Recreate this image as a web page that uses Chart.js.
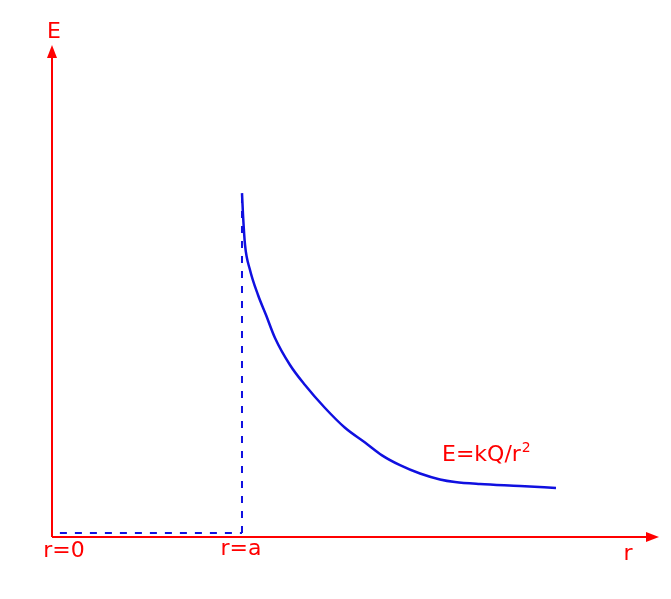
<!DOCTYPE html>
<html>
<head>
<meta charset="utf-8">
<script src="https://cdn.jsdelivr.net/npm/chart.js@4.4.1/dist/chart.umd.min.js"></script>
<style>
  html, body { margin: 0; padding: 0; background: #fff; }
  #wrap { width: 671px; height: 599px; }
</style>
</head>
<body>
<div id="wrap"><canvas id="field-chart"></canvas></div>
<script>
// curve E = kQ/r^2 for r >= a (arbitrary units, axes 0..10)
const curveR = [3.13, 3.147, 3.18, 3.262, 3.394, 3.526, 3.674, 3.921, 4.168, 4.498, 4.827, 5.157, 5.437, 5.733, 6.063, 6.392, 6.639, 7.051, 7.71, 8.303];
const curveE = [6.99, 6.545, 5.935, 5.427, 4.919, 4.512, 4.045, 3.496, 3.089, 2.622, 2.22, 1.92, 1.66, 1.46, 1.29, 1.17, 1.118, 1.077, 1.037, 0.996];

// r = a marker and the E = 0 line inside the sphere
const rA = 3.13;
const insideR = [0.13, 3.13];
const insideE = [0.08, 0.08];
const markerE = [0.08, 6.9];

const axisLabels = { x: 'r', y: 'E', origin: 'r=0', a: 'r=a', formula: 'E=kQ/r' };

const red = '#ff0000';
const blue = '#1010e0';
const font = '"DejaVu Sans", Verdana, sans-serif';

// draw axes, arrows and the texts
const axesPlugin = {
    id: 'axes',
    afterDatasetsDraw(chart) {
        const ctx = chart.ctx;
        const xs = chart.scales.x;
        const ys = chart.scales.y;
        const x0 = xs.getPixelForValue(0);
        const y0 = ys.getPixelForValue(0);
        const xEnd = xs.getPixelForValue(10);
        const yEnd = ys.getPixelForValue(10);

        ctx.save();
        ctx.strokeStyle = red;
        ctx.fillStyle = red;
        ctx.lineWidth = 2;
        ctx.beginPath();
        ctx.moveTo(x0, y0);
        ctx.lineTo(xEnd - 8, y0);
        ctx.moveTo(x0, y0);
        ctx.lineTo(x0, yEnd + 8);
        ctx.stroke();

        // arrow heads
        ctx.beginPath();
        ctx.moveTo(xEnd, y0);
        ctx.lineTo(xEnd - 13, y0 - 5);
        ctx.lineTo(xEnd - 13, y0 + 5);
        ctx.closePath();
        ctx.fill();
        ctx.beginPath();
        ctx.moveTo(x0, yEnd);
        ctx.lineTo(x0 - 5, yEnd + 13);
        ctx.lineTo(x0 + 5, yEnd + 13);
        ctx.closePath();
        ctx.fill();

        ctx.font = '22px ' + font;
        ctx.textAlign = 'center';
        ctx.textBaseline = 'middle';
        ctx.fillText(axisLabels.y, x0 + 2, yEnd - 13);
        ctx.fillText(axisLabels.x, xEnd - 31, y0 + 17);
        ctx.fillText(axisLabels.origin, x0 + 12, y0 + 14);
        ctx.fillText(axisLabels.a, xs.getPixelForValue(rA) - 1, y0 + 12);

        ctx.textAlign = 'left';
        const fx = 442, fy = 455;
        ctx.fillText(axisLabels.formula, fx, fy);
        const w = ctx.measureText(axisLabels.formula).width;
        ctx.font = '14px ' + font;
        ctx.fillText('2', fx + w + 1, fy - 7);
        ctx.restore();
    }
};

const toPoints = (xsArr, ysArr) => xsArr.map((v, i) => ({ x: v, y: ysArr[i] }));

new Chart(document.getElementById('field-chart').getContext('2d'), {
    type: 'scatter',
    data: {
        datasets: [
            {
                data: toPoints(insideR, insideE),
                showLine: true,
                borderColor: blue,
                borderWidth: 2,
                borderDash: [7, 8],
                pointRadius: 0
            },
            {
                data: toPoints([rA, rA], markerE),
                showLine: true,
                borderColor: blue,
                borderWidth: 2,
                borderDash: [7, 8],
                pointRadius: 0
            },
            {
                data: toPoints(curveR, curveE),
                showLine: true,
                borderColor: blue,
                borderWidth: 2.5,
                cubicInterpolationMode: 'monotone',
                pointRadius: 0
            }
        ]
    },
    options: {
        responsive: true,
        maintainAspectRatio: false,
        animation: false,
        layout: { padding: { left: 52, right: 12, top: 45, bottom: 62 } },
        plugins: { legend: { display: false }, tooltip: { enabled: false } },
        scales: {
            x: { type: 'linear', min: 0, max: 10, display: false },
            y: { type: 'linear', min: 0, max: 10, display: false }
        }
    },
    plugins: [axesPlugin]
});
</script>
</body>
</html>
